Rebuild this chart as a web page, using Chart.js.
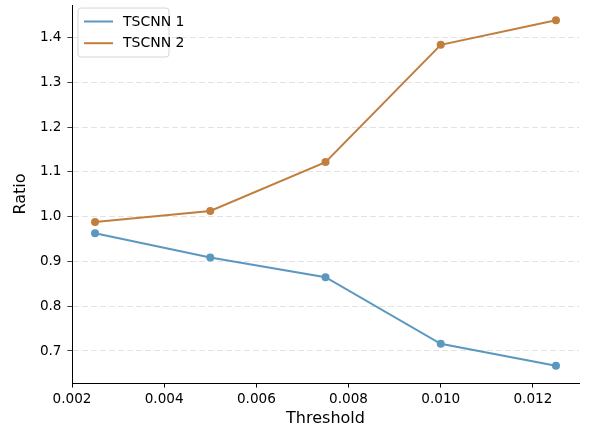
<!DOCTYPE html>
<html>
<head>
<meta charset="utf-8">
<script src="https://cdn.jsdelivr.net/npm/chart.js@4/dist/chart.umd.min.js"></script>
<style>
html,body{margin:0;padding:0;background:#fff;}
#wrap{width:590px;height:432px;position:relative;}
</style>
</head>
<body>
<div id="wrap"><canvas id="c" width="590" height="432"></canvas></div>
<script>
const thresholds = [0.0025, 0.005, 0.0075, 0.010, 0.0125];
const tscnn1 = [0.963, 0.909, 0.865, 0.716, 0.667];
const tscnn2 = [0.988, 1.013, 1.122, 1.384, 1.439];
const seriesNames = ["TSCNN 1", "TSCNN 2"];
const xTicks = [0.002, 0.004, 0.006, 0.008, 0.010, 0.012];
const yTicks = [0.7, 0.8, 0.9, 1.0, 1.1, 1.2, 1.3, 1.4];

const colors = ["#5a98bf", "#c17e3d"];
const FONT = "'DejaVu Sans', sans-serif";

const legendPlugin = {
  id: 'insideLegend',
  afterDraw(chart) {
    const ctx = chart.ctx;
    const x = 78, y = 8, w = 91, h = 49, r = 3;
    ctx.save();
    ctx.beginPath();
    ctx.moveTo(x + r, y);
    ctx.lineTo(x + w - r, y);
    ctx.quadraticCurveTo(x + w, y, x + w, y + r);
    ctx.lineTo(x + w, y + h - r);
    ctx.quadraticCurveTo(x + w, y + h, x + w - r, y + h);
    ctx.lineTo(x + r, y + h);
    ctx.quadraticCurveTo(x, y + h, x, y + h - r);
    ctx.lineTo(x, y + r);
    ctx.quadraticCurveTo(x, y, x + r, y);
    ctx.closePath();
    ctx.fillStyle = 'rgba(255,255,255,0.8)';
    ctx.fill();
    ctx.strokeStyle = '#d6d6d6';
    ctx.lineWidth = 1;
    ctx.stroke();
    chart.data.datasets.forEach((ds, i) => {
      const ly = 21.5 + i * 21.7;
      ctx.beginPath();
      ctx.moveTo(84, ly);
      ctx.lineTo(113, ly);
      ctx.strokeStyle = ds.borderColor;
      ctx.lineWidth = 2;
      ctx.stroke();
      ctx.fillStyle = '#000';
      ctx.font = '14px ' + FONT;
      ctx.textBaseline = 'middle';
      ctx.textAlign = 'left';
      ctx.fillText(ds.label, 123, ly + 0.5);
    });
    ctx.restore();
  }
};

new Chart(document.getElementById('c'), {
  type: 'line',
  data: {
    datasets: [
      {
        label: seriesNames[0],
        data: thresholds.map((t, i) => ({x: t, y: tscnn1[i]})),
        borderColor: colors[0],
        backgroundColor: colors[0],
        borderWidth: 2,
        pointRadius: 4,
        pointHoverRadius: 4,
        pointBorderWidth: 0,
        tension: 0
      },
      {
        label: seriesNames[1],
        data: thresholds.map((t, i) => ({x: t, y: tscnn2[i]})),
        borderColor: colors[1],
        backgroundColor: colors[1],
        borderWidth: 2,
        pointRadius: 4,
        pointHoverRadius: 4,
        pointBorderWidth: 0,
        tension: 0
      }
    ]
  },
  options: {
    responsive: false,
    animation: false,
    devicePixelRatio: 1,
    layout: { padding: { left: 0, right: 11, top: 5, bottom: 0 } },
    plugins: {
      legend: { display: false },
      tooltip: { enabled: false }
    },
    scales: {
      x: {
        type: 'linear',
        min: 0.002,
        max: 0.013,
        afterBuildTicks(scale) { scale.ticks = xTicks.map(v => ({value: v})); },
        afterFit(scale) { scale.height = 49; scale.paddingLeft = 0; scale.paddingRight = 0; },
        ticks: {
          color: '#000',
          font: { family: FONT, size: 13.6 },
          padding: 3.5,
          maxRotation: 0,
          autoSkip: false,
          callback: v => Number(v).toFixed(3)
        },
        grid: {
          drawOnChartArea: false,
          drawTicks: true,
          tickLength: 4.5,
          tickColor: '#000',
          tickWidth: 1
        },
        border: { display: true, color: '#000', width: 1 },
        title: {
          display: true,
          text: 'Threshold',
          color: '#000',
          font: { family: FONT, size: 16 },
          padding: { top: 0, bottom: 3.5 }
        }
      },
      y: {
        type: 'linear',
        min: 0.6285,
        max: 1.473,
        afterBuildTicks(scale) { scale.ticks = yTicks.map(v => ({value: v})); },
        afterFit(scale) { scale.width = 72; scale.paddingTop = 0; scale.paddingBottom = 0; },
        ticks: {
          color: '#000',
          font: { family: FONT, size: 13.6 },
          padding: 6,
          autoSkip: false,
          callback: v => Number(v).toFixed(1)
        },
        grid: {
          drawOnChartArea: true,
          color: '#e3e3e3',
          lineWidth: 1,
          drawTicks: true,
          tickLength: 4.5,
          tickColor: '#000',
          tickWidth: 1,
          tickBorderDash: [1, 0]
        },
        border: { display: true, color: '#000', width: 1, dash: [6, 3] },
        title: {
          display: true,
          text: 'Ratio',
          color: '#000',
          font: { family: FONT, size: 16 },
          padding: { top: 11.5, bottom: 0 }
        }
      }
    }
  },
  plugins: [legendPlugin]
});
</script>
</body>
</html>
